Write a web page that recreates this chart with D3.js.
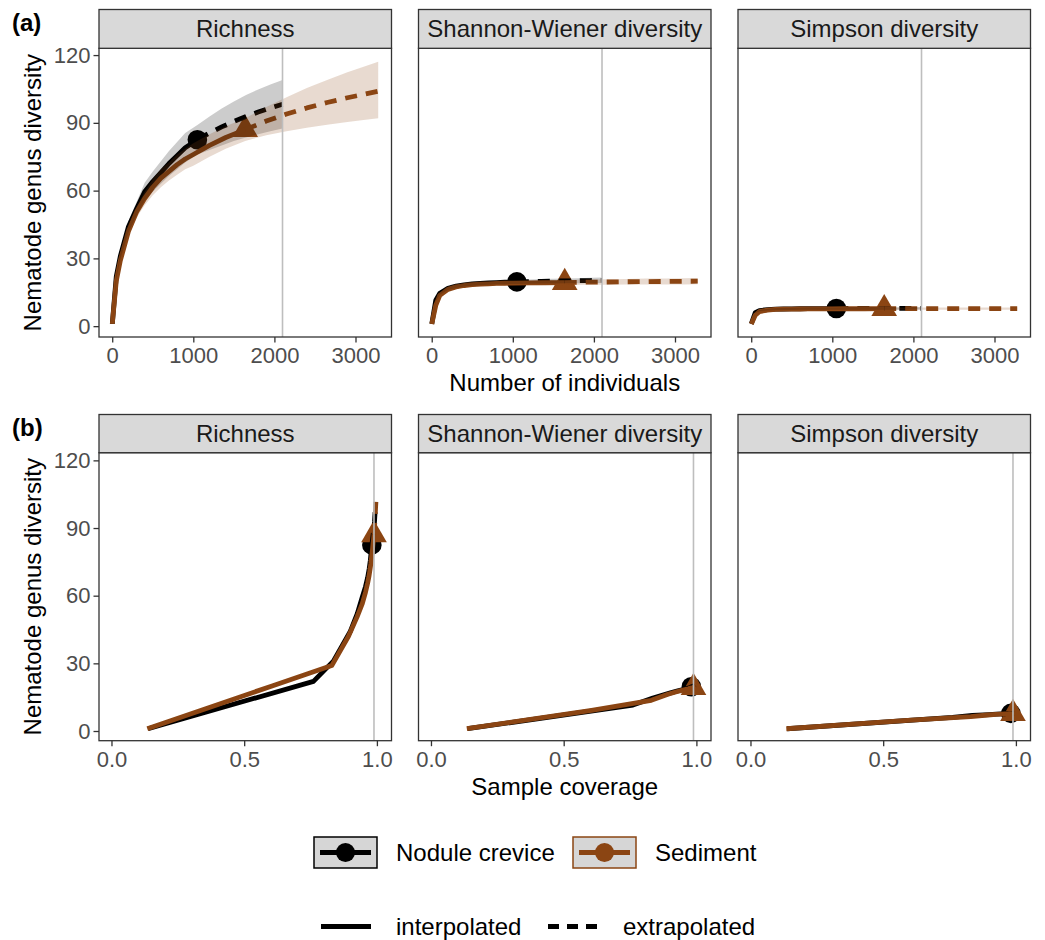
<!DOCTYPE html>
<html><head><meta charset="utf-8">
<script src="https://cdn.jsdelivr.net/npm/d3@7"></script>
<style>body{margin:0;background:#fff} text{font-family:"Liberation Sans",Arial,sans-serif}</style>
</head><body><svg id="c" width="1045" height="940"></svg>
<script>
// ---------------- data ----------------
const panelNames = ["Richness", "Shannon-Wiener diversity", "Simpson diversity"];
const siteNames = ["Nodule crevice", "Sediment"];
const methodNames = ["interpolated", "extrapolated"];
const xTicksA = [0, 1000, 2000, 3000];
const xTicksB = [0, 0.5, 1.0];
const yTicks = [0, 30, 60, 90, 120];
const refSize = 2100;
const refCoverage = 0.989;

// Nodule crevice (observed sample size 1050)
const ncN = 1050;
const ncM  = [1, 50, 100, 200, 300, 400, 500, 600, 700, 800, 900, 1050, 1200, 1350, 1500, 1650, 1800, 1950, 2100];
const ncSC = [0.138, 0.761, 0.836, 0.899, 0.926, 0.945, 0.957, 0.965, 0.971, 0.975, 0.978, 0.981, 0.984, 0.987, 0.989, 0.991, 0.992, 0.993, 0.994];
const ncRich   = [1, 22, 31, 44, 52, 59.5, 64, 68, 72, 75.5, 79, 82.5, 85.5, 88.2, 90.6, 92.8, 94.8, 96.6, 98.2];
const ncRichLo = [1, 21, 29.5, 41.5, 49, 55.5, 59.5, 63, 66.5, 69.5, 72.5, 76, 78, 80, 82, 83.5, 85, 86.3, 87.5];
const ncRichHi = [1, 23, 32.5, 46.5, 55, 63.5, 68.5, 73, 77.5, 81.5, 85.5, 89, 92.8, 96.3, 99.4, 102.3, 104.8, 107, 109];
const ncShan   = [1, 11.5, 14.6, 16.8, 17.7, 18.3, 18.7, 18.95, 19.15, 19.3, 19.45, 19.6, 19.75, 19.85, 19.95, 20.05, 20.1, 20.2, 20.3];
const ncShanLo = [1, 11, 13.9, 16.0, 16.9, 17.5, 17.9, 18.1, 18.3, 18.5, 18.6, 18.7, 18.8, 18.85, 18.9, 18.95, 19.0, 19.0, 19.05];
const ncShanHi = [1, 12, 15.3, 17.6, 18.5, 19.1, 19.5, 19.8, 20.0, 20.1, 20.3, 20.5, 20.7, 20.85, 21.0, 21.15, 21.2, 21.4, 21.55];
const ncSimp   = [1, 6.0, 6.9, 7.3, 7.5, 7.6, 7.65, 7.7, 7.72, 7.75, 7.77, 7.8, 7.82, 7.83, 7.84, 7.85, 7.86, 7.87, 7.88];
const ncSimpLo = [1, 5.8, 6.6, 6.95, 7.1, 7.2, 7.2, 7.25, 7.22, 7.25, 7.27, 7.3, 7.27, 7.28, 7.29, 7.3, 7.31, 7.32, 7.33];
const ncSimpHi = [1, 6.2, 7.2, 7.65, 7.9, 8.0, 8.1, 8.15, 8.22, 8.25, 8.27, 8.3, 8.37, 8.38, 8.39, 8.4, 8.41, 8.42, 8.43];

// Sediment (observed sample size 1640)
const sdN = 1640;
const sdM  = [1, 50, 100, 200, 300, 400, 500, 600, 700, 800, 900, 1000, 1200, 1400, 1640, 1900, 2150, 2400, 2650, 2900, 3100, 3280];
const sdSC = [0.135, 0.605, 0.83, 0.893, 0.925, 0.945, 0.957, 0.965, 0.970, 0.974, 0.977, 0.979, 0.983, 0.986, 0.989, 0.991, 0.993, 0.994, 0.995, 0.996, 0.9965, 0.997];
const sdRich   = [1, 20, 29, 42, 50.5, 56.5, 61.5, 65.5, 68.5, 71.5, 74, 76, 80, 83.5, 87, 90.8, 93.9, 96.6, 99, 101.1, 102.6, 104];
const sdRichLo = [1, 19, 27.5, 40, 48, 53.5, 58, 61.5, 64.5, 67, 69.5, 71, 75, 78.5, 82, 84.5, 86.3, 87.8, 89.2, 90.4, 91.3, 92];
const sdRichHi = [1, 21, 30.5, 44, 53, 59.5, 65, 69.5, 72.5, 76, 78.5, 81, 85, 88.5, 92, 97, 101.3, 105.4, 109, 112.4, 114.8, 117];
const sdShan   = [1, 9.2, 13.6, 16.3, 17.4, 18.0, 18.35, 18.6, 18.75, 18.9, 19.0, 19.05, 19.15, 19.22, 19.3, 19.45, 19.55, 19.65, 19.72, 19.8, 19.85, 19.9];
const sdShanLo = [1, 8.8, 12.9, 15.5, 16.6, 17.2, 17.5, 17.7, 17.85, 17.95, 18.05, 18.1, 18.15, 18.2, 18.25, 18.3, 18.35, 18.4, 18.4, 18.45, 18.45, 18.5];
const sdShanHi = [1, 9.6, 14.3, 17.1, 18.2, 18.8, 19.2, 19.5, 19.65, 19.85, 19.95, 20.0, 20.15, 20.25, 20.35, 20.6, 20.75, 20.9, 21.05, 21.15, 21.25, 21.3];
const sdSimp   = [1, 4.8, 6.4, 7.1, 7.4, 7.5, 7.55, 7.6, 7.62, 7.65, 7.67, 7.68, 7.7, 7.71, 7.72, 7.74, 7.75, 7.76, 7.77, 7.78, 7.79, 7.8];
const sdSimpLo = [1, 4.6, 6.1, 6.75, 7.0, 7.1, 7.12, 7.16, 7.17, 7.2, 7.21, 7.22, 7.23, 7.24, 7.25, 7.26, 7.26, 7.27, 7.27, 7.28, 7.28, 7.29];
const sdSimpHi = [1, 5.0, 6.7, 7.45, 7.8, 7.9, 7.98, 8.04, 8.07, 8.1, 8.13, 8.14, 8.17, 8.18, 8.19, 8.22, 8.24, 8.25, 8.27, 8.28, 8.3, 8.31];

const siteColors = ["#000000", "#8B4513"];

// ---------------- build ----------------
const sites = [
  {name: siteNames[0], color: siteColors[0], N: ncN, m: ncM, sc: ncSC, shape: "circle",
   val: [ncRich, ncShan, ncSimp], lo: [ncRichLo, ncShanLo, ncSimpLo], hi: [ncRichHi, ncShanHi, ncSimpHi]},
  {name: siteNames[1], color: siteColors[1], N: sdN, m: sdM, sc: sdSC, shape: "triangle",
   val: [sdRich, sdShan, sdSimp], lo: [sdRichLo, sdShanLo, sdSimpLo], hi: [sdRichHi, sdShanHi, sdSimpHi]}
];

const svg = d3.select("#c");
svg.append("rect").attr("width", 1045).attr("height", 940).attr("fill", "#fff");
const defs = svg.append("defs");

const cols = [99, 418.5, 738];
const pw = 292.5;
const rows = [
  {label: "(a)", stripTop: 9.5, top: 48.3, bottom: 337, xDomain: [-163, 3444], yDomain: [-4.8, 123],
   xTicks: xTicksA, fmt: d => String(d), xTitle: "Number of individuals", useSC: false, ref: refSize, ribbons: true},
  {label: "(b)", stripTop: 414.5, top: 452.7, bottom: 740.7, xDomain: [-0.047, 1.055], yDomain: [-4.3, 123.4],
   xTicks: xTicksB, fmt: d3.format(".1f"), xTitle: "Sample coverage", useSC: true, ref: refCoverage, ribbons: false}
];

const LW = 4.8;
const DASH = "12,9";
const tickFont = 22, titleFont = 24, stripFont = 24;

rows.forEach((r, ri) => {
  const y = d3.scaleLinear().domain(r.yDomain).range([r.bottom, r.top]);
  cols.forEach((x0, ci) => {
    const x = d3.scaleLinear().domain(r.xDomain).range([x0, x0 + pw]);
    const g = svg.append("g");
    const cid = `clip${ri}${ci}`;
    defs.append("clipPath").attr("id", cid).append("rect")
      .attr("x", x0).attr("y", r.top).attr("width", pw).attr("height", r.bottom - r.top);
    const pg = g.append("g").attr("clip-path", `url(#${cid})`);

    const pts = sites.map(s => s.m.map((mv, i) => ({
      x: r.useSC ? s.sc[i] : mv, m: mv, y: s.val[ci][i], lo: s.lo[ci][i], hi: s.hi[ci][i]
    })));

    // observed points (drawn first, like ggiNEXT)
    sites.forEach((s, si) => {
      const o = pts[si].find(p => p.m === s.N);
      if (s.shape === "circle") {
        pg.append("circle").attr("cx", x(o.x)).attr("cy", y(o.y)).attr("r", 9.8).attr("fill", s.color);
      } else {
        pg.append("path").attr("d", d3.symbol(d3.symbolTriangle, 285)())
          .attr("transform", `translate(${x(o.x)},${y(o.y)})`).attr("fill", s.color);
      }
    });

    // lines
    const line = d3.line().x(p => x(p.x)).y(p => y(p.y));
    sites.forEach((s, si) => {
      const interp = pts[si].filter(p => p.m <= s.N);
      const extrap = pts[si].filter(p => p.m >= s.N);
      pg.append("path").attr("d", line(interp)).attr("fill", "none").attr("stroke", s.color)
        .attr("stroke-width", LW).attr("stroke-linejoin", "round");
      pg.append("path").attr("d", line(extrap)).attr("fill", "none").attr("stroke", s.color)
        .attr("stroke-width", LW).attr("stroke-dasharray", DASH).attr("stroke-linejoin", "round");
    });

    // ribbons (alpha 0.2, drawn over lines)
    if (r.ribbons) {
      const area = d3.area().x(p => x(p.x)).y0(p => y(p.lo)).y1(p => y(p.hi));
      sites.forEach((s, si) => {
        pg.append("path").attr("d", area(pts[si])).attr("fill", s.color).attr("fill-opacity", 0.2);
      });
    }

    // reference line
    pg.append("line").attr("x1", x(r.ref)).attr("x2", x(r.ref)).attr("y1", r.top).attr("y2", r.bottom)
      .attr("stroke", "#bebebe").attr("stroke-width", 1.6);

    // panel border
    g.append("rect").attr("x", x0).attr("y", r.top).attr("width", pw).attr("height", r.bottom - r.top)
      .attr("fill", "none").attr("stroke", "#333333").attr("stroke-width", 1.3);

    // strip
    g.append("rect").attr("x", x0).attr("y", r.stripTop).attr("width", pw).attr("height", r.top - r.stripTop)
      .attr("fill", "#d9d9d9").attr("stroke", "#333333").attr("stroke-width", 1.3);
    g.append("text").attr("x", x0 + pw / 2).attr("y", (r.stripTop + r.top) / 2).attr("dy", "0.35em")
      .attr("text-anchor", "middle").attr("font-size", stripFont).attr("fill", "#1a1a1a").text(panelNames[ci]);

    // x axis
    const xa = g.append("g").attr("transform", `translate(0,${r.bottom})`)
      .call(d3.axisBottom(x).tickValues(r.xTicks).tickFormat(r.fmt).tickSize(5.5).tickPadding(4));
    xa.select(".domain").remove();
    xa.selectAll("line").attr("stroke", "#333333").attr("stroke-width", 1.3);
    xa.selectAll("text").attr("font-size", tickFont).attr("fill", "#4d4d4d")
      .attr("font-family", "Liberation Sans, Arial, sans-serif").attr("y", 18.5).attr("dy", "0.35em");

    // y axis (left panel only)
    if (ci === 0) {
      const ya = g.append("g").attr("transform", `translate(${x0},0)`)
        .call(d3.axisLeft(y).tickValues(yTicks).tickSize(5.5).tickPadding(3));
      ya.select(".domain").remove();
      ya.selectAll("line").attr("stroke", "#333333").attr("stroke-width", 1.3);
      ya.selectAll("text").attr("font-size", tickFont).attr("fill", "#4d4d4d")
        .attr("font-family", "Liberation Sans, Arial, sans-serif");
    }
  });

  // titles
  svg.append("text").attr("x", cols[1] + pw / 2).attr("y", r.bottom + 45.5).attr("dy", "0.35em")
    .attr("text-anchor", "middle").attr("font-size", titleFont).attr("fill", "#000").text(r.xTitle);
  svg.append("text").attr("transform", `translate(41,${(r.top + r.bottom) / 2}) rotate(-90)`)
    .attr("text-anchor", "middle").attr("font-size", titleFont).attr("fill", "#000").text("Nematode genus diversity");
  svg.append("text").attr("x", 12).attr("y", r.stripTop + 21).attr("font-size", 24).attr("font-weight", "bold")
    .attr("fill", "#000").text(r.label);
});

// ---------------- legend ----------------
const leg = svg.append("g");
const keyW = 63, keyH = 31;
const siteLegX = [314, 573];
sites.forEach((s, si) => {
  const kx = siteLegX[si], ky = 837;
  leg.append("rect").attr("x", kx).attr("y", ky).attr("width", keyW).attr("height", keyH)
    .attr("fill", "#d6d6d6").attr("stroke", s.color).attr("stroke-width", 1.5);
  leg.append("line").attr("x1", kx + 6).attr("x2", kx + keyW - 6).attr("y1", ky + keyH / 2).attr("y2", ky + keyH / 2)
    .attr("stroke", s.color).attr("stroke-width", LW);
  leg.append("circle").attr("cx", kx + keyW / 2).attr("cy", ky + keyH / 2).attr("r", 9.5).attr("fill", s.color);
  leg.append("text").attr("x", kx + 82).attr("y", ky + keyH / 2).attr("dy", "0.35em")
    .attr("font-size", 24).attr("fill", "#000").text(s.name);
});
const ltX = [321, 548];
methodNames.forEach((mn, i) => {
  const ly = 926.5;
  leg.append("line").attr("x1", ltX[i]).attr("x2", ltX[i] + 50).attr("y1", ly).attr("y2", ly)
    .attr("stroke", "#000").attr("stroke-width", LW).attr("stroke-dasharray", i === 1 ? "11,8" : null);
  leg.append("text").attr("x", ltX[i] + 75).attr("y", ly).attr("dy", "0.35em")
    .attr("font-size", 24).attr("fill", "#000").text(mn);
});
</script>
</body></html>
